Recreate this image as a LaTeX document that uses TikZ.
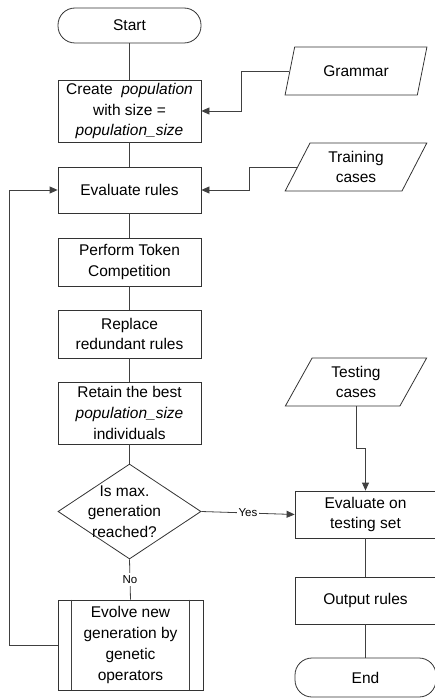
\documentclass[tikz,border=0pt]{standalone}
\usepackage{fontspec}
\setmainfont{Liberation Sans}
\usetikzlibrary{shapes.geometric,arrows.meta}

\begin{document}
\begin{tikzpicture}[x=1pt,y=-1pt,
    every node/.style={font=\fontsize{15.5}{20.7}\selectfont, align=center, inner sep=0pt},
    line/.style={draw=black!75, line width=0.8pt},
    arr/.style={line, -{Triangle[length=8pt,width=7pt]}},
    proc/.style={draw=black!80, line width=0.8pt, minimum width=143pt},
    term/.style={proc, rounded corners=17pt},
    io/.style={draw=black!80, line width=0.8pt, trapezium, trapezium left angle=65, trapezium right angle=115,
               trapezium stretches=true, minimum width=142pt, minimum height=48pt},
    decision/.style={draw=black!80, line width=0.8pt, diamond, minimum width=143pt, minimum height=95pt},
    lab/.style={font=\fontsize{11.5}{13}\selectfont, fill=white, inner sep=2pt}]

\useasboundingbox (0,0) rectangle (435,698);

% main loop
\node[term, minimum height=35pt] (start) at (129.5,25.5) {Start};
\node[proc, minimum height=62pt] (create) at (129.5,111) {Create~ \textit{population}\\with size =\\\textit{population\_size}};
\node[proc, minimum height=46pt] (eval) at (129.5,190) {Evaluate rules};
\node[proc, minimum height=48pt] (token) at (129.5,262) {Perform Token\\Competition};
\node[proc, minimum height=48pt] (replace) at (129.5,334) {Replace\\redundant rules};
\node[proc, minimum height=62pt] (retain) at (129.5,413) {Retain the best\\\textit{population\_size}\\individuals};
\node[decision] (check) at (129.5,511.5) {};
\node (checktext) at ([xshift=-5pt]check.center) {Is max.\\generation\\reached?};
\node[proc, minimum width=145pt, minimum height=90pt] (evolve) at (130.5,645) {Evolve new\\generation by\\genetic\\operators};
\draw[line] ([xshift=14pt]evolve.north west) -- ([xshift=14pt]evolve.south west);
\draw[line] ([xshift=-14pt]evolve.north east) -- ([xshift=-14pt]evolve.south east);

% inputs and testing
\node[io] (grammar) at (356,71) {Grammar};
\node[io] (training) at (356,167) {Training\\cases};
\node[io] (testing) at (356,382) {Testing\\cases};
\node[proc, minimum width=141pt, minimum height=47pt] (evaltest) at (365.5,514.5) {Evaluate on\\testing set};
\node[proc, minimum width=141pt, minimum height=47pt] (output) at (365.5,600.5) {Output rules};
\node[term, minimum width=141pt, minimum height=39pt] (end) at (365.5,677.5) {End};

\draw[line] (start) -- (create);
\draw[line] (create) -- (eval);
\draw[line] (eval) -- (token);
\draw[line] (token) -- (replace);
\draw[line] (replace) -- (retain);
\draw[line] (retain) -- (check.north);
\draw[line] (check.south) -- node[lab]{No} (evolve.north);
\draw[arr] (evolve.west) -- ++(-48,0) |- (eval.west);
\draw[arr] (grammar.west) -- ++(-48,0) |- (create.east);
\draw[arr] (training.west) -- ++(-48,0) |- (eval.east);
\draw[arr] (check.east) -- node[lab]{Yes} (evaltest.west);
\draw[arr] (testing.south) -- ++(0,42) -| (evaltest.north);
\draw[line] (evaltest) -- (output);
\draw[line] (output) -- (end);

\end{tikzpicture}
\end{document}
